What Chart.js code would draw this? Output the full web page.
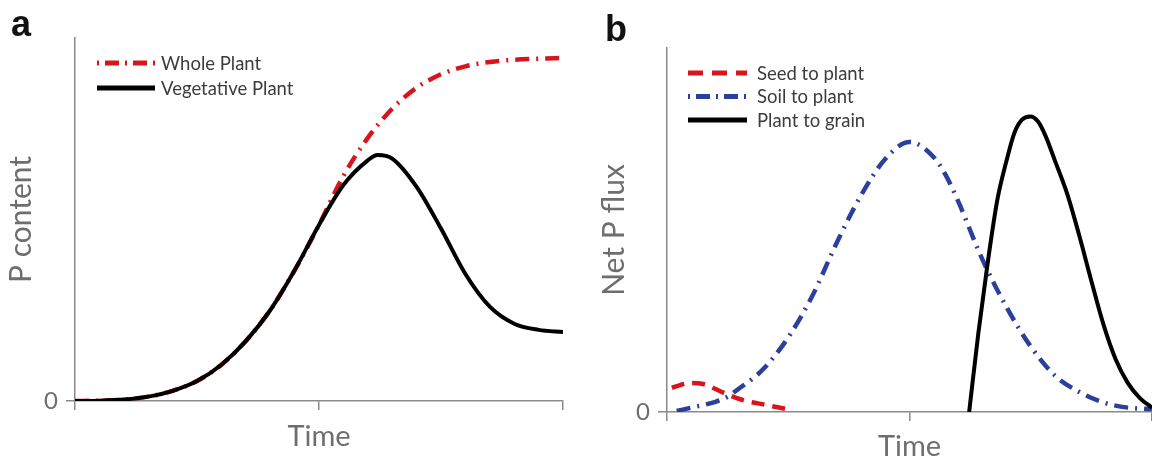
<!DOCTYPE html>
<html>
<head>
<meta charset="utf-8">
<script src="https://cdn.jsdelivr.net/npm/chart.js@4.4.1/dist/chart.umd.min.js"></script>
<style>
  body { margin: 0; background: #fff; }
  .wrap { position: relative; width: 1152px; height: 461px; overflow: hidden; }
  .panel { position: absolute; top: 0; width: 576px; height: 461px; }
  .tag { position: absolute; font: bold 36px "Liberation Sans", Arial, sans-serif; line-height: 1; color: #111; }
</style>
</head>
<body>
<div class="wrap">
  <div class="panel" style="left:0"><canvas id="chartA" width="576" height="461"></canvas></div>
  <div class="panel" style="left:576px"><canvas id="chartB" width="576" height="461"></canvas></div>
  <div class="tag" style="left:11px; top:6px">a</div>
  <div class="tag" style="left:605px; top:11px">b</div>
</div>
<script>
// Panel a: P content over time (x in % of season, y in % of axis height)
const timeA = [0, 5, 10, 15, 20, 25, 30, 35, 40, 45, 50, 55, 60, 62, 65, 70, 75, 80, 85, 90, 95, 100];
const vegetativePlant = [0, 0.1, 0.4, 1.2, 2.8, 5.5, 10, 16.5, 25, 36, 48.5, 59.5, 66.3, 67.8, 66.8, 59, 47.5, 35, 26, 21.3, 19.6, 19];
const wholeTime = [0, 5, 10, 15, 20, 25, 30, 35, 40, 45, 50, 55, 60, 65, 70, 75, 80, 85, 90, 95, 100];
const wholePlant = [0, 0.1, 0.4, 1.2, 2.8, 5.5, 10, 16.5, 25, 36, 48.5, 62, 72.5, 80.5, 86.3, 90, 92.2, 93.4, 94, 94.3, 94.5];

// Panel b: net P flux over time
const seedTime = [1, 2.7, 5, 6.4, 8.2, 11.3, 15.6, 20.6, 24.7];
const seedToPlant = [6.6, 7.4, 8.0, 7.9, 7.4, 5.5, 3.3, 1.9, 0.8];
const soilTime = [2, 5, 10, 12.5, 15, 17.5, 20, 25, 30, 35, 40, 45, 50, 55, 57.5, 60, 65, 70, 75, 80, 85, 90, 95, 100];
const soilToPlant = [0.3, 1.2, 2.8, 4.2, 6.6, 9, 12, 20.5, 32, 46.5, 59.5, 69.5, 74.2, 70, 65, 58, 42, 28.8, 18, 10, 5.5, 2.6, 1.2, 0.8];
const grainTime = [62.3, 64.2, 66, 68.1, 70, 71.6, 73.2, 74.9, 76.5, 78, 80, 82.5, 85, 87.5, 90, 92.5, 95, 97.5, 100];
const plantToGrain = [0, 21.7, 39.8, 58.2, 69, 76.6, 80.3, 81.2, 79.8, 76, 69, 60, 48.5, 36, 24, 14.5, 8, 3.8, 1.2];

const timeTicks = [0, 50, 100];
const zeroTick = [0];

const axisGray = '#8a8a8a';
const textGray = '#6e6e6e';
const red = '#d8141c';
const blue = '#2b3f9c';

function pts(xs, ys) {
    return xs.map((x, i) => ({ x: x, y: ys[i] }));
}

// Draws the line-sample legend inside the plot area
const lineLegend = {
    id: 'lineLegend',
    afterDraw(chart, args, opts) {
        const ctx = chart.ctx;
        ctx.save();
        chart.data.datasets.forEach((ds, i) => {
            const y = opts.y + i * opts.rowGap;
            ctx.beginPath();
            ctx.setLineDash(ds.legendDash || []);
            ctx.strokeStyle = ds.borderColor;
            ctx.lineWidth = 5;
            ctx.moveTo(opts.x, y);
            ctx.lineTo(opts.x + opts.lineLen, y);
            ctx.stroke();
            ctx.setLineDash([]);
            ctx.fillStyle = '#3c3c3c';
            ctx.font = opts.font;
            ctx.textBaseline = 'middle';
            ctx.fillText(ds.label, opts.x + opts.lineLen + opts.gap, y + 1);
        });
        ctx.restore();
    }
};

function makeOptions(cfg) {
    return {
        responsive: false,
        animation: false,
        layout: { padding: { top: cfg.top, right: cfg.right, left: 0, bottom: 0 } },
        plugins: {
            legend: { display: false },
            tooltip: { enabled: false },
            lineLegend: cfg.legend
        },
        elements: { point: { radius: 0 } },
        scales: {
            x: {
                type: 'linear',
                min: 0,
                max: 100,
                afterBuildTicks: s => { s.ticks = timeTicks.map(v => ({ value: v })); },
                afterFit: s => { s.height = cfg.xHeight; },
                ticks: { display: false },
                grid: { drawOnChartArea: false, drawTicks: true, tickLength: 9, color: axisGray, lineWidth: 1.5 },
                border: { display: true, color: axisGray, width: 1.5 },
                title: {
                    display: true,
                    text: 'Time',
                    color: textGray,
                    font: { family: 'Lato', size: 29 },
                    padding: { top: 0, bottom: cfg.timePad }
                }
            },
            y: {
                type: 'linear',
                min: 0,
                max: 100,
                afterBuildTicks: s => { s.ticks = zeroTick.map(v => ({ value: v })); },
                afterFit: s => { s.width = cfg.yWidth; },
                ticks: { color: textGray, font: { family: 'Lato', size: 24 }, padding: 8 },
                grid: { drawOnChartArea: false, drawTicks: true, tickLength: 9, color: axisGray, lineWidth: 1.5 },
                border: { display: true, color: axisGray, width: 1.5 },
                title: {
                    display: true,
                    text: cfg.yTitle,
                    color: textGray,
                    font: { family: 'Lato', size: 30 },
                    padding: { top: cfg.yTitlePad, bottom: 0 }
                }
            }
        }
    };
}

document.addEventListener('DOMContentLoaded', function() {
    new Chart(document.getElementById('chartA'), {
        type: 'line',
        data: {
            datasets: [
                {
                    label: 'Whole Plant',
                    data: pts(wholeTime, wholePlant),
                    borderColor: red,
                    borderWidth: 4.5,
                    borderDash: [14, 7, 2, 7],
                    legendDash: [2, 6, 14, 6],
                    cubicInterpolationMode: 'monotone',
                    order: 1
                },
                {
                    label: 'Vegetative Plant',
                    data: pts(timeA, vegetativePlant),
                    borderColor: '#000',
                    borderWidth: 4,
                    cubicInterpolationMode: 'monotone',
                    order: 0
                }
            ]
        },
        options: makeOptions({
            top: 38, right: 13, xHeight: 60, yWidth: 75, timePad: 7, yTitlePad: 3,
            yTitle: 'P content',
            legend: { x: 97, y: 63, rowGap: 25, lineLen: 58, gap: 6, font: '18.5px Lato' }
        }),
        plugins: [lineLegend]
    });

    new Chart(document.getElementById('chartB'), {
        type: 'line',
        data: {
            datasets: [
                {
                    label: 'Seed to plant',
                    data: pts(seedTime, seedToPlant),
                    borderColor: red,
                    borderWidth: 4.5,
                    borderDash: [13, 8],
                    legendDash: [15, 9],
                    cubicInterpolationMode: 'monotone',
                    order: 1
                },
                {
                    label: 'Soil to plant',
                    data: pts(soilTime, soilToPlant),
                    borderColor: blue,
                    borderWidth: 4.5,
                    borderDash: [14, 7, 2, 7],
                    legendDash: [2, 6, 14, 6],
                    cubicInterpolationMode: 'monotone',
                    order: 2
                },
                {
                    label: 'Plant to grain',
                    data: pts(grainTime, plantToGrain),
                    borderColor: '#000',
                    borderWidth: 4,
                    cubicInterpolationMode: 'monotone',
                    order: 0
                }
            ]
        },
        options: makeOptions({
            top: 48, right: 0, xHeight: 49, yWidth: 91, timePad: -3, yTitlePad: 20,
            yTitle: 'Net P flux',
            legend: { x: 112, y: 73, rowGap: 23.5, lineLen: 59, gap: 10, font: '18.5px Lato' }
        }),
        plugins: [lineLegend]
    });
});
</script>
</body>
</html>
